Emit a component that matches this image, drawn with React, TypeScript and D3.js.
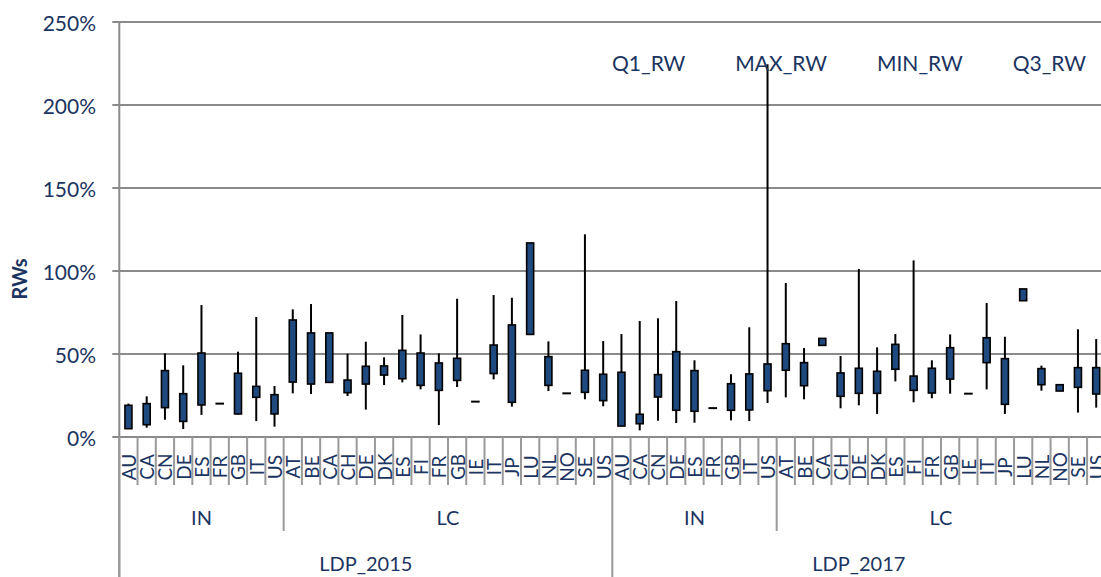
import React, { useEffect, useRef } from "react";
import * as d3 from "d3";

// ---- data ----
const PERIODS = ["LDP_2015", "LDP_2017"];
const SEGMENTS = ["IN", "LC"];
const COUNTRIES_IN = ["AU", "CA", "CN", "DE", "ES", "FR", "GB", "IT", "US"];
const COUNTRIES_LC = ["AT", "BE", "CA", "CH", "DE", "DK", "ES", "FI", "FR", "GB", "IE", "IT", "JP", "LU", "NL", "NO", "SE", "US"];
const SERIES_NAMES = ["Q1_RW", "MAX_RW", "MIN_RW", "Q3_RW"];
const Y_TICKS = [0, 50, 100, 150, 200, 250];

// values in percent, order: 2015 IN, 2015 LC, 2017 IN, 2017 LC
const Q1_RW = [
  5.0, 7.4, 17.7, 9.4, 19.3, 20.1, 13.9, 23.9, 13.9,
  33.1, 31.9, 32.9, 26.7, 31.9, 37.3, 35.1, 31.1, 28.1, 34.1, 21.3, 38.2, 20.9, 61.8, 31.1, 26.3, 26.9, 21.9,
  6.6, 8.0, 24.1, 16.1, 15.5, 17.4, 16.1, 16.3, 27.9,
  40.2, 30.9, 55.2, 24.5, 26.3, 26.3, 40.8, 28.1, 26.5, 34.9, 26.1, 44.8, 19.7, 82.1, 31.5, 27.7, 29.9, 25.9,
];
const Q3_RW = [
  19.1, 20.1, 40.0, 26.1, 50.6, 20.1, 38.4, 30.5, 25.5,
  70.5, 62.7, 62.7, 34.3, 42.6, 42.8, 52.2, 50.6, 44.6, 47.4, 21.3, 55.4, 67.5, 116.9, 48.4, 26.3, 40.2, 37.8,
  39.0, 13.7, 37.6, 51.4, 40.0, 17.4, 32.1, 38.0, 44.0,
  56.2, 44.8, 59.4, 38.6, 41.4, 39.6, 55.8, 36.7, 41.4, 53.8, 26.1, 59.8, 47.2, 89.2, 41.2, 31.5, 41.8, 41.8,
];
const MAX_RW = [
  20.1, 24.5, 50.4, 43.2, 79.5, 20.1, 51.4, 72.3, 30.7,
  76.9, 80.1, 62.7, 50.2, 57.4, 48.0, 73.5, 61.8, 50.4, 83.3, 21.3, 85.5, 83.9, 116.9, 57.6, 26.3, 122.1, 57.8,
  62.0, 69.9, 71.5, 81.9, 46.2, 17.4, 37.8, 66.1, 224.5,
  92.8, 53.6, 59.4, 48.8, 101.2, 54.0, 62.0, 106.4, 46.2, 61.8, 26.1, 80.7, 60.4, 89.2, 43.0, 31.5, 64.9, 59.0,
];
const MIN_RW = [
  5.0, 5.6, 10.4, 4.8, 13.3, 20.1, 13.5, 9.6, 6.2,
  26.3, 25.9, 32.9, 24.7, 16.5, 31.3, 32.9, 28.7, 7.2, 30.1, 21.3, 34.7, 18.3, 61.8, 27.7, 26.3, 22.7, 18.5,
  6.6, 4.0, 9.8, 8.4, 8.6, 17.4, 10.0, 9.6, 20.5,
  23.9, 22.7, 55.2, 17.3, 19.1, 13.9, 33.5, 20.9, 23.3, 26.1, 26.1, 28.7, 13.9, 82.1, 27.9, 27.7, 14.7, 17.7,
];

const W = 1101;
const H = 577;
const TEXT = "#1B3461";
const FONT = "Lato, 'Open Sans', sans-serif";

export default function App() {
  const ref = useRef<SVGSVGElement>(null);

  useEffect(() => {
    const svg = d3.select(ref.current);
    svg.selectAll("*").remove();

    const cats: { period: string; seg: string; country: string }[] = [];
    PERIODS.forEach((p) =>
      SEGMENTS.forEach((s) =>
        (s === "IN" ? COUNTRIES_IN : COUNTRIES_LC).forEach((c) => cats.push({ period: p, seg: s, country: c }))
      )
    );
    const n = cats.length;
    const left = 119.3;
    const band = 18.26;
    const top = 22;
    const bottom = 437;

    const x = d3.scaleBand<number>().domain(d3.range(n)).range([left, left + band * n]).padding(0);
    const y = d3.scaleLinear().domain([0, 250]).range([bottom, top]);

    const g = svg.append("g");
    Y_TICKS.forEach((t) => {
      g.append("line")
        .attr("x1", left - 7).attr("x2", W + 10)
        .attr("y1", y(t)).attr("y2", y(t))
        .attr("stroke", "#8a8a8a").attr("stroke-width", 2);
      g.append("text")
        .attr("x", 96).attr("y", y(t))
        .attr("text-anchor", "end").attr("dominant-baseline", "central")
        .attr("font-family", FONT).attr("font-size", 21).attr("fill", TEXT)
        .text(`${t}%`);
    });

    g.append("line").attr("x1", left).attr("x2", left).attr("y1", top).attr("y2", H)
      .attr("stroke", "#8a8a8a").attr("stroke-width", 2);

    g.append("text")
      .attr("transform", `translate(27, 279) rotate(-90)`)
      .attr("text-anchor", "middle")
      .attr("font-family", FONT).attr("font-size", 20).attr("font-weight", "bold").attr("fill", TEXT)
      .text("RWs");

    const segBounds = new Set<number>();
    const perBounds = new Set<number>();
    let idx = 0;
    PERIODS.forEach(() => {
      perBounds.add(idx);
      SEGMENTS.forEach((s) => {
        segBounds.add(idx);
        idx += (s === "IN" ? COUNTRIES_IN : COUNTRIES_LC).length;
      });
    });
    perBounds.add(n);
    segBounds.add(n);
    for (let i = 0; i <= n; i++) {
      const xx = i < n ? (x(i) as number) : (x(n - 1) as number) + band;
      const y2 = perBounds.has(i) ? H : segBounds.has(i) ? 531 : 485;
      g.append("line").attr("x1", xx).attr("x2", xx).attr("y1", bottom).attr("y2", y2)
        .attr("stroke", "#9a9a9a").attr("stroke-width", 2);
    }

    cats.forEach((c, i) => {
      const cx = (x(i) as number) + band / 2;
      g.append("text")
        .attr("transform", `translate(${cx}, 467) rotate(-90)`)
        .attr("text-anchor", "middle").attr("dominant-baseline", "central")
        .attr("font-family", FONT).attr("font-size", 19).attr("fill", TEXT)
        .text(c.country);
    });

    idx = 0;
    PERIODS.forEach((p) => {
      const pStart = idx;
      SEGMENTS.forEach((s) => {
        const len = (s === "IN" ? COUNTRIES_IN : COUNTRIES_LC).length;
        const sx = (x(idx) as number) + (band * len) / 2;
        g.append("text").attr("x", sx).attr("y", 517)
          .attr("text-anchor", "middle").attr("dominant-baseline", "central")
          .attr("font-family", FONT).attr("font-size", 20).attr("fill", TEXT).text(s);
        idx += len;
      });
      const px = (x(pStart) as number) + (band * (idx - pStart)) / 2;
      g.append("text").attr("x", px).attr("y", 563)
        .attr("text-anchor", "middle").attr("dominant-baseline", "central")
        .attr("font-family", FONT).attr("font-size", 20).attr("fill", TEXT).text(p);
    });

    const boxW = 7;
    cats.forEach((_, i) => {
      const cx = (x(i) as number) + band / 2;
      const lo = Math.min(Q1_RW[i], Q3_RW[i]);
      const hi = Math.max(Q1_RW[i], Q3_RW[i]);
      if (MAX_RW[i] > MIN_RW[i]) {
        g.append("line").attr("x1", cx).attr("x2", cx)
          .attr("y1", y(MAX_RW[i])).attr("y2", y(MIN_RW[i]))
          .attr("stroke", "#000").attr("stroke-width", 2);
      }
      if (hi - lo < 0.05) {
        g.append("line")
          .attr("x1", cx - boxW / 2 - 0.8).attr("x2", cx + boxW / 2 + 0.8)
          .attr("y1", y(hi)).attr("y2", y(hi))
          .attr("stroke", "#000").attr("stroke-width", 2);
      } else {
        g.append("rect")
          .attr("x", cx - boxW / 2).attr("width", boxW)
          .attr("y", y(hi)).attr("height", y(lo) - y(hi))
          .attr("fill", "#1F4A80").attr("stroke", "#000").attr("stroke-width", 1.6);
      }
    });

    let lx = 612;
    SERIES_NAMES.forEach((s) => {
      const t = g.append("text").attr("x", lx).attr("y", 62)
        .attr("dominant-baseline", "central")
        .attr("font-family", FONT).attr("font-size", 21).attr("fill", TEXT).text(s);
      const w = (t.node() as SVGTextElement).getComputedTextLength();
      lx += w + 50;
    });
  }, []);

  return (
    <svg
      ref={ref}
      width={W}
      height={H}
      style={{ position: "absolute", left: 0, top: 0, background: "#fff" }}
    />
  );
}
